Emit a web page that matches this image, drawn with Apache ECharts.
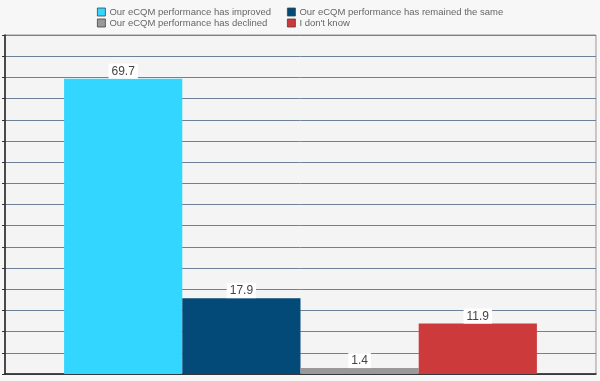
<!DOCTYPE html>
<html><head><meta charset="utf-8">
<script src="https://cdn.jsdelivr.net/npm/echarts@6/dist/echarts.min.js"></script>
<style>html,body{margin:0;padding:0;background:#f7f7f7}#c{width:600px;height:381px}</style>
</head><body><div id="c"></div>
<script>
var categories = [''];
var seriesNames = ['Our eCQM performance has improved','Our eCQM performance has remained the same','Our eCQM performance has declined',"I don't know"];
var seriesValues = [69.7, 17.9, 1.4, 11.9];
var colors = ['#33d6ff','#034a78','#999999','#cc3a3c'];
var yMin = 0, yMax = 80, yInterval = 5;

var chart = echarts.init(document.getElementById('c'));
var series = seriesNames.map(function(n,i){
  return {
    name:n, type:'bar', data:[seriesValues[i]], barGap:'0%', barCategoryGap:'20%',
    itemStyle:{color:colors[i]},
    label:{show:true, position:'top', distance:0, color:'#444', fontFamily:'Arial', fontSize:12,
      backgroundColor:'#ffffff', padding:[2,3,1,3], formatter:function(p){return p.value.toFixed(1);}}
  };
});
var legendText = {color:'#666', fontSize:9.5, fontFamily:'Arial', padding:[0,0,0,-1]};
chart.setOption({
  backgroundColor:'#f7f7f7',
  animation:false,
  legend:[
    {data:[seriesNames[0],seriesNames[2]], orient:'vertical', left:92, top:2, itemWidth:8, itemHeight:8, itemGap:1,
     icon:'rect', itemStyle:{borderColor:'#444', borderWidth:0.8}, textStyle:legendText},
    {data:[seriesNames[1],seriesNames[3]], orient:'vertical', left:282, top:2, itemWidth:8, itemHeight:8, itemGap:1,
     icon:'rect', itemStyle:{borderColor:'#444', borderWidth:0.8}, textStyle:legendText}
  ],
  grid:{left:5, right:4, top:35, bottom:7, show:true, borderColor:'#999', borderWidth:1, backgroundColor:'#f4f4f4'},
  xAxis:{type:'category', data:categories, axisLine:{lineStyle:{color:'#222', width:1.5}}, axisTick:{show:false}, axisLabel:{show:false}},
  yAxis:{type:'value', min:yMin, max:yMax, interval:yInterval,
    axisLine:{show:true, lineStyle:{color:'#222', width:1.5}},
    axisTick:{show:true, length:3, lineStyle:{color:'#333'}},
    axisLabel:{show:false},
    splitLine:{lineStyle:{color:'#6f8196', width:1}}},
  series:series
});
</script></body></html>
